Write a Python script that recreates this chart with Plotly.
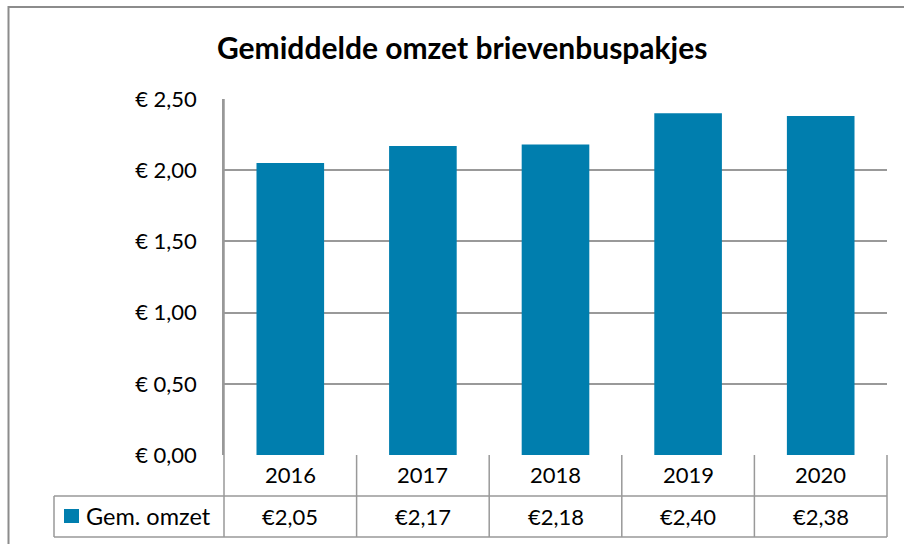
import plotly.graph_objects as go

years = ["2016", "2017", "2018", "2019", "2020"]
omzet = [2.05, 2.17, 2.18, 2.40, 2.38]
value_labels = ["€2,05", "€2,17", "€2,18", "€2,40", "€2,38"]
series_name = "Gem. omzet"
title_text = "Gemiddelde omzet brievenbuspakjes"

W, H = 904, 544
L, R, T, B = 224, 887, 99, 455
BAR = "#007EAE"
GRID = "#999999"
FONT = "Lato, 'Open Sans', sans-serif"

def px(xp):
    return (xp - L) / (R - L)

def py(yp):
    return (B - yp) / (B - T)

fig = go.Figure()
fig.add_trace(go.Bar(x=list(range(len(years))), y=omzet, marker=dict(color=BAR, line=dict(width=0)),
                     name=series_name, showlegend=False))

shapes = []
# outer border
shapes.append(dict(type="rect", xref="paper", yref="paper", x0=px(8.5), x1=px(920), y0=py(560), y1=py(7),
                   line=dict(color="#8c8c8c", width=2), fillcolor="rgba(0,0,0,0)"))
# table lines
row1, row2, row3 = 455, 496, 537
tab_left = 54
col_edges = [L + i * (R - L) / len(years) for i in range(len(years) + 1)]
def hline(y, x0, x1):
    shapes.append(dict(type="line", xref="paper", yref="paper", x0=px(x0), x1=px(x1), y0=py(y), y1=py(y),
                       line=dict(color=GRID, width=1.5)))
def vline(x, y0, y1):
    shapes.append(dict(type="line", xref="paper", yref="paper", x0=px(x), x1=px(x), y0=py(y0), y1=py(y1),
                       line=dict(color=GRID, width=1.5)))
hline(row2, tab_left, R)
hline(row3, tab_left, R)
for ce in col_edges:
    vline(ce, T if ce == L else row1, row3)
vline(tab_left, row2, row3)
# legend key
shapes.append(dict(type="rect", xref="paper", yref="paper", x0=px(64), x1=px(79), y0=py(523), y1=py(509),
                   line=dict(width=0), fillcolor=BAR))

annotations = []
annotations.append(dict(text="<b>" + title_text + "</b>", xref="paper", yref="paper",
                        x=px(462), y=py(47), xanchor="center", yanchor="middle", showarrow=False,
                        font=dict(size=30, color="#000", family=FONT)))
for i, (yr, lab) in enumerate(zip(years, value_labels)):
    annotations.append(dict(text=yr, xref="x", yref="paper", x=i, y=py(475), xanchor="center",
                            yanchor="middle", showarrow=False, font=dict(size=22, color="#000", family=FONT)))
    annotations.append(dict(text=lab, xref="x", yref="paper", x=i, y=py(516), xanchor="center",
                            yanchor="middle", showarrow=False, font=dict(size=22, color="#000", family=FONT)))
annotations.append(dict(text=series_name, xref="paper", yref="paper", x=px(84), y=py(516), xanchor="left",
                        yanchor="middle", showarrow=False, font=dict(size=23.5, color="#000", family=FONT)))

fig.update_layout(
    width=W, height=H,
    margin=dict(l=L, r=W - R, t=T, b=H - B, autoexpand=False),
    paper_bgcolor="white", plot_bgcolor="white",
    separators=",.",
    bargap=0.49,
    font=dict(family=FONT, size=22, color="#000"),
    xaxis=dict(range=[-0.5, len(years) - 0.5], showticklabels=False, showgrid=False, zeroline=False,
               ticks="", showline=False, automargin=False),
    yaxis=dict(range=[0, 2.5], dtick=0.5, tickformat=".2f", tickprefix="€ ",
               showgrid=True, gridcolor=GRID, gridwidth=1.5, zeroline=False,
               showline=True, linecolor=GRID, linewidth=1.5, ticks="", ticklabelstandoff=21,
               tickfont=dict(size=22), automargin=False),
    shapes=shapes, annotations=annotations,
)
fig.write_html("out.html", config={"displayModeBar": False},
               post_script="document.body.style.margin='0';document.body.style.overflow='hidden';")
